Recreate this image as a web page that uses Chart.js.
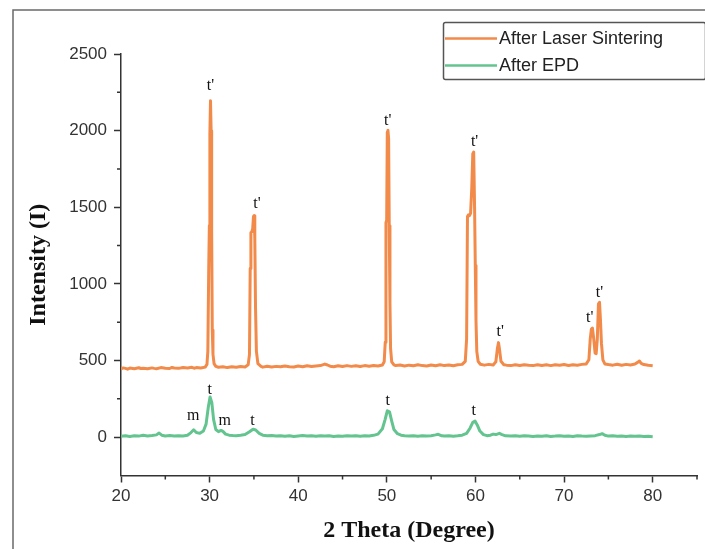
<!DOCTYPE html>
<html>
<head>
<meta charset="utf-8">
<title>XRD patterns</title>
<script src="https://cdn.jsdelivr.net/npm/chart.js@4.4.1/dist/chart.umd.min.js"></script>
<style>
  html, body { margin: 0; padding: 0; background: #ffffff; }
  canvas { display: block; }
</style>
</head>
<body>
<canvas id="xrd" width="705" height="549"></canvas>
<script>
// 2θ (degree) and intensity for the laser-sintered coating
const sinterAngle = [
  20.0, 20.25, 20.5, 20.75, 21.0, 21.5, 22.0, 22.25, 22.5, 23.0, 23.5, 23.75, 24.0, 24.5, 25.0, 25.5,
  25.75, 26.0, 26.5, 27.0, 27.5, 28.0, 28.25, 28.5, 29.0, 29.5, 29.7, 29.8, 29.9, 29.97, 30.03, 30.1,
  30.17, 30.23, 30.3, 30.38, 30.5, 30.7, 31.0, 31.5, 32.0, 32.5, 33.0, 33.5, 34.0, 34.35, 34.5,
  34.58, 34.66, 34.76, 34.86, 34.95, 35.02, 35.1, 35.18, 35.28, 35.45, 35.8, 36.0, 36.5, 37.0, 37.5,
  38.0, 38.5, 39.0, 39.5, 40.0, 40.5, 41.0, 41.5, 42.0, 42.5, 43.0, 43.3, 43.6, 44.0, 44.5, 45.0,
  45.5, 46.0, 46.5, 47.0, 47.5, 48.0, 48.5, 49.0, 49.5, 49.7, 49.82, 49.9, 49.98, 50.05, 50.12,
  50.2, 50.27, 50.35, 50.42, 50.55, 50.8, 51.0, 51.5, 52.0, 52.5, 53.0, 53.5, 54.0, 54.5, 55.0,
  55.5, 56.0, 56.5, 57.0, 57.5, 58.0, 58.5, 58.85, 59.0, 59.1, 59.2, 59.32, 59.45, 59.58, 59.7,
  59.8, 59.9, 59.98, 60.06, 60.15, 60.3, 60.55, 61.0, 61.5, 62.0, 62.3, 62.48, 62.6, 62.72, 62.88,
  63.2, 63.5, 64.0, 64.5, 65.0, 65.5, 66.0, 66.5, 67.0, 67.5, 68.0, 68.5, 69.0, 69.5, 70.0, 70.5,
  71.0, 71.5, 72.0, 72.5, 72.8, 72.95, 73.08, 73.2, 73.35, 73.5, 73.62, 73.75, 73.88, 74.0, 74.1,
  74.22, 74.38, 74.6, 75.0, 75.5, 76.0, 76.5, 77.0, 77.5, 78.0, 78.3, 78.5, 78.7, 79.0, 79.5, 80.0
];
const sinterIntensity = [
  446, 452, 449, 444, 451, 447, 453, 448, 450, 446, 452, 449, 447, 454, 450, 448,
  455, 451, 449, 455, 452, 456, 450, 454, 451, 457, 475, 560, 1100, 1380, 1980, 2195,
  2000, 1350, 700, 540, 480, 462, 456, 460, 454, 459, 456, 461, 458, 472, 540,
  1100, 1335, 1340, 1360, 1440, 1445, 1300, 850, 560, 480, 462, 457, 463, 458, 462,
  459, 465, 460, 458, 464, 460, 466, 461, 465, 467, 477, 471, 463, 460, 466, 461,
  467, 462, 466, 461, 467, 463, 468, 464, 471, 492, 620, 1400, 1415, 1990, 2003,
  1950, 1380, 880, 580, 492, 472, 467, 471, 465, 470, 466, 472, 467, 465, 471,
  466, 472, 467, 471, 466, 472, 475, 495, 640, 1440, 1450, 1445, 1460, 1620, 1850,
  1860, 1500, 1120, 760, 560, 495, 476, 470, 475, 471, 492, 580, 617, 570, 495,
  473, 470, 467, 473, 468, 473, 469, 467, 473, 468, 472, 467, 473, 469, 474, 468,
  473, 469, 475, 478, 505, 640, 705, 712, 640, 548, 545, 640, 870, 880, 770,
  610, 505, 478, 474, 470, 476, 469, 475, 471, 477, 488, 497, 482, 474, 469, 466
];

// 2θ (degree) and intensity for the electrophoretically deposited coating
const epdAngle = [
  20.0, 20.5, 21.0, 21.5, 22.0, 22.5, 23.0, 23.5, 24.0, 24.3, 24.6, 25.0, 25.5, 26.0, 26.5, 27.0,
  27.5, 27.9, 28.2, 28.5, 28.9, 29.3, 29.6, 29.85, 30.05, 30.25, 30.45, 30.7, 31.0, 31.3, 31.5, 31.8,
  32.2, 32.6, 33.0, 33.5, 34.0, 34.5, 34.9, 35.2, 35.6, 36.0, 36.5, 37.0, 37.5, 38.0, 38.5, 39.0,
  39.5, 40.0, 40.5, 41.0, 41.5, 42.0, 42.5, 43.0, 43.5, 44.0, 44.5, 45.0, 45.5, 46.0, 46.5, 47.0,
  47.5, 48.0, 48.5, 49.0, 49.5, 49.8, 50.05, 50.3, 50.55, 50.8, 51.2, 51.6, 52.0, 52.5, 53.0, 53.5,
  54.0, 54.5, 55.0, 55.5, 55.8, 56.2, 56.5, 57.0, 57.5, 58.0, 58.5, 59.0, 59.4, 59.7, 59.95, 60.2,
  60.5, 60.9, 61.3, 61.7, 62.0, 62.3, 62.7, 63.0, 63.4, 64.0, 64.5, 65.0, 65.5, 66.0, 66.5, 67.0,
  67.5, 68.0, 68.5, 69.0, 69.5, 70.0, 70.5, 71.0, 71.5, 72.0, 72.5, 73.0, 73.5, 74.0, 74.3, 74.6,
  75.0, 75.5, 76.0, 76.5, 77.0, 77.5, 78.0, 78.5, 79.0, 79.5, 80.0
];
const epdIntensity = [
  6, 10, 5, 9, 7, 12, 8, 11, 15, 27, 13, 8, 11, 7, 10, 8,
  13, 30, 48, 30, 25, 40, 85, 195, 262, 225, 115, 50, 36, 44, 38, 20,
  13, 11, 10, 13, 17, 35, 52, 47, 25, 13, 9, 11, 7, 10, 6, 9,
  5, 8, 11, 7, 9, 6, 10, 7, 9, 5, 8, 6, 9, 7, 10, 6,
  9, 8, 12, 20, 55, 115, 172, 165, 105, 50, 23, 13, 9, 7, 10, 6,
  9, 7, 10, 15, 19, 9, 7, 10, 6, 9, 13, 25, 60, 97, 105, 80,
  40, 17, 10, 13, 20, 17, 25, 17, 9, 7, 10, 6, 9, 7, 5, 8,
  6, 9, 5, 7, 10, 6, 8, 5, 9, 7, 6, 8, 10, 17, 23, 13,
  7, 9, 6, 8, 5, 7, 6, 8, 4, 6, 3
];

// Phase marks (t' = non-transformable tetragonal, t = tetragonal, m = monoclinic)
const sinterMarkAngle = [30.1, 35.35, 50.1, 59.9, 62.8, 72.9, 74.0];
const sinterMarkLevel = [2290, 1520, 2065, 1925, 687, 777, 944];
const sinterMarkText = ["t'", "t'", "t'", "t'", "t'", "t'", "t'"];
const epdMarkAngle = [28.15, 30.0, 31.7, 34.85, 50.1, 59.8];
const epdMarkLevel = [137, 312, 105, 109, 235, 170];
const epdMarkText = ['m', 't', 'm', 't', 't', 't'];

// Axis ticks
const angleLabels = [20, 30, 40, 50, 60, 70, 80];
const intensityLabels = [0, 500, 1000, 1500, 2000, 2500];

const seriesNames = ['After Laser Sintering', 'After EPD'];
const seriesColors = ['#f28a4a', '#63c48f'];

const AXIS = '#333333';
const MINOR_LEN = 4;

const toPoints = (xs, ys) => xs.map((x, i) => ({ x: x, y: ys[i] }));

// Frame, minor ticks, phase marks and legend
const decorations = {
  id: 'decorations',
  beforeDraw(chart) {
    const ctx = chart.ctx;
    ctx.save();
    ctx.fillStyle = '#ffffff';
    ctx.fillRect(0, 0, chart.width, chart.height);
    ctx.strokeStyle = '#6a6a6a';
    ctx.lineWidth = 1.5;
    ctx.beginPath();
    ctx.moveTo(13, chart.height);
    ctx.lineTo(13, 10);
    ctx.lineTo(chart.width, 10);
    ctx.stroke();
    ctx.restore();
  },
  afterDraw(chart) {
    const ctx = chart.ctx;
    const xs = chart.scales.x, ys = chart.scales.y;
    const area = chart.chartArea;
    ctx.save();
    // minor ticks
    ctx.strokeStyle = AXIS;
    ctx.lineWidth = 1.5;
    ctx.beginPath();
    xs.ticks.forEach(t => {
      if (!angleLabels.includes(t.value)) {
        const px = xs.getPixelForValue(t.value);
        ctx.moveTo(px, area.bottom);
        ctx.lineTo(px, area.bottom + MINOR_LEN);
      }
    });
    ys.ticks.forEach(t => {
      if (!intensityLabels.includes(t.value) && t.value > ys.min) {
        const py = ys.getPixelForValue(t.value);
        ctx.moveTo(area.left, py);
        ctx.lineTo(area.left - MINOR_LEN, py);
      }
    });
    ctx.stroke();

    // phase marks
    ctx.fillStyle = '#111111';
    ctx.textAlign = 'center';
    ctx.textBaseline = 'middle';
    ctx.font = '16px "Liberation Serif", "Times New Roman", serif';
    sinterMarkAngle.forEach((a, i) => {
      ctx.fillText(sinterMarkText[i], xs.getPixelForValue(a), ys.getPixelForValue(sinterMarkLevel[i]));
    });
    epdMarkAngle.forEach((a, i) => {
      ctx.fillText(epdMarkText[i], xs.getPixelForValue(a), ys.getPixelForValue(epdMarkLevel[i]));
    });

    // legend box
    const lx = 443.5, ly = 22.5, lw = 262, lh = 57;
    ctx.strokeStyle = '#555555';
    ctx.lineWidth = 1.5;
    ctx.beginPath();
    ctx.roundRect(lx, ly, lw, lh, 2);
    ctx.stroke();
    ctx.font = '18px "Liberation Sans", Arial, sans-serif';
    ctx.textAlign = 'left';
    ctx.textBaseline = 'middle';
    chart.data.datasets.forEach((ds, i) => {
      const rowY = 38.5 + i * 27;
      ctx.strokeStyle = ds.borderColor;
      ctx.lineWidth = 2.5;
      ctx.beginPath();
      ctx.moveTo(445, rowY);
      ctx.lineTo(497, rowY);
      ctx.stroke();
      ctx.fillStyle = '#222222';
      ctx.fillText(ds.label, 499, rowY + 1);
    });
    ctx.restore();
  }
};

new Chart(document.getElementById('xrd'), {
  type: 'line',
  data: {
    datasets: [
      {
        label: seriesNames[0],
        data: toPoints(sinterAngle, sinterIntensity),
        borderColor: seriesColors[0],
        backgroundColor: seriesColors[0],
        borderWidth: 3,
        borderJoinStyle: 'round',
        pointRadius: 0,
        tension: 0,
        fill: false
      },
      {
        label: seriesNames[1],
        data: toPoints(epdAngle, epdIntensity),
        borderColor: seriesColors[1],
        backgroundColor: seriesColors[1],
        borderWidth: 3,
        borderJoinStyle: 'round',
        pointRadius: 0,
        tension: 0,
        fill: false
      }
    ]
  },
  options: {
    responsive: false,
    animation: false,
    events: [],
    layout: { padding: { left: 0, top: 54, right: 8, bottom: 0 } },
    plugins: {
      legend: { display: false },
      tooltip: { enabled: false },
      title: { display: false }
    },
    scales: {
      x: {
        type: 'linear',
        min: 20,
        max: 85,
        afterFit(scale) { scale.height = 73.5; },
        border: { display: true, color: AXIS, width: 1.5 },
        grid: {
          drawOnChartArea: false,
          drawTicks: true,
          tickLength: 7,
          tickWidth: 1.5,
          tickColor: c => angleLabels.includes(c.tick.value) ? AXIS : 'rgba(0,0,0,0)'
        },
        ticks: {
          stepSize: 5,
          padding: 4,
          color: '#333333',
          font: { family: '"Liberation Sans", Arial, sans-serif', size: 17 },
          maxRotation: 0,
          autoSkip: false,
          callback: v => angleLabels.includes(v) ? String(v) : ''
        },
        title: {
          display: true,
          text: '2 Theta (Degree)',
          color: '#111111',
          font: { family: '"Liberation Serif", "Times New Roman", serif', size: 24, weight: 'bold' },
          padding: { top: 0, bottom: 4 }
        }
      },
      y: {
        type: 'linear',
        min: -250,
        max: 2500,
        afterFit(scale) { scale.width = 121; },
        border: { display: true, color: AXIS, width: 1.5 },
        grid: {
          drawOnChartArea: false,
          drawTicks: true,
          tickLength: 7,
          tickWidth: 1.5,
          tickColor: c => intensityLabels.includes(c.tick.value) ? AXIS : 'rgba(0,0,0,0)'
        },
        ticks: {
          stepSize: 250,
          padding: 7,
          color: '#333333',
          font: { family: '"Liberation Sans", Arial, sans-serif', size: 17 },
          autoSkip: false,
          callback: v => intensityLabels.includes(v) ? String(v) : ''
        },
        title: {
          display: true,
          text: 'Intensity (I)',
          color: '#111111',
          font: { family: '"Liberation Serif", "Times New Roman", serif', size: 24, weight: 'bold' },
          padding: { top: 24, bottom: 0 }
        }
      }
    }
  },
  plugins: [decorations]
});
</script>
</body>
</html>
